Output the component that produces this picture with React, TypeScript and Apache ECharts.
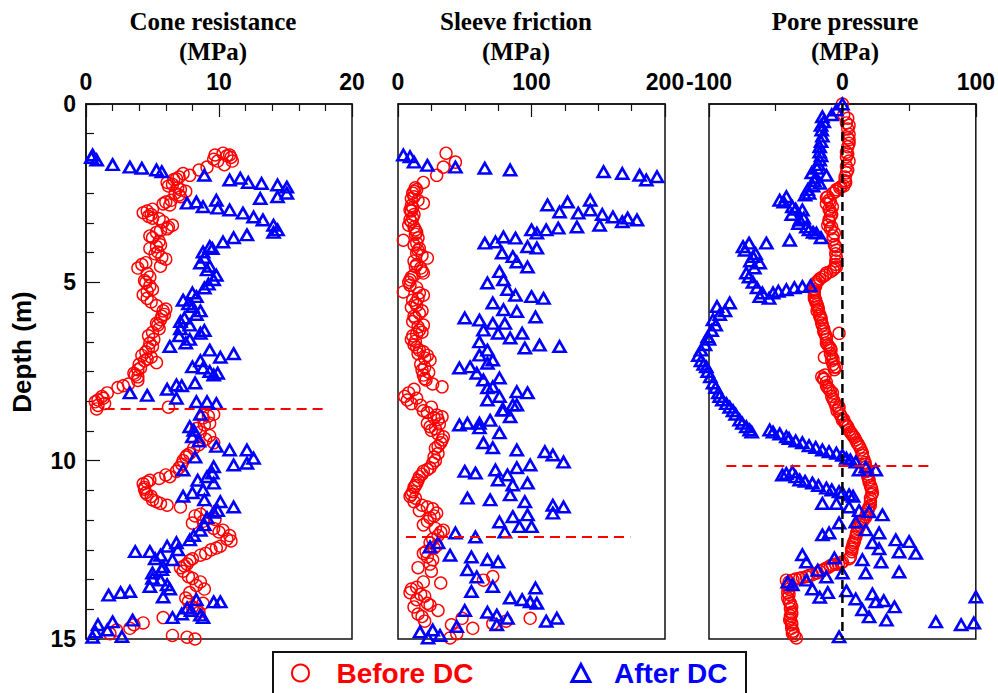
import React, { useEffect, useRef } from "react";
import * as echarts from "echarts";

// ---------- data: [value, depth (m)] ----------
const coneBefore: number[][] = [
  [10.3,1.38],[9.7,1.43],[10.8,1.43],[10.6,1.45],[10.9,1.5],[9.6,1.55],[11.0,1.6],[9.9,1.6],[10.4,1.7],[9.1,1.77],[8.5,1.85],[7.3,1.95],[7.8,2.0],[7.0,2.05],[6.8,2.1],[6.6,2.12],[6.1,2.2],[6.5,2.25],[6.2,2.3],[6.9,2.35],[7.1,2.4],[7.5,2.45],[6.7,2.5],[7.0,2.55],[7.1,2.6],[6.4,2.7],[6.0,2.75],[5.8,2.8],[6.3,2.83],[5.0,2.95],[4.6,3.0],[4.3,3.05],[4.9,3.1],[4.7,3.15],[5.0,3.2],[5.5,3.22],[5.8,3.3],[6.5,3.4],[6.2,3.45],[6.1,3.5],[5.6,3.55],[5.3,3.6],[4.8,3.7],[5.0,3.75],[5.5,3.85],[5.6,3.95],[5.3,4.0],[4.8,4.05],[5.4,4.15],[5.2,4.2],[5.7,4.3],[6.0,4.35],[4.5,4.45],[4.2,4.5],[5.6,4.55],[3.9,4.6],[4.6,4.75],[4.8,4.85],[4.4,4.95],[4.5,5.0],[4.8,5.1],[5.0,5.2],[4.6,5.25],[4.3,5.35],[4.6,5.45],[4.9,5.55],[5.3,5.65],[6.0,5.75],[5.8,5.8],[5.9,5.9],[5.7,5.95],[5.6,6.05],[5.3,6.15],[5.4,6.2],[5.5,6.3],[5.0,6.4],[4.7,6.5],[5.1,6.6],[4.8,6.7],[5.0,6.8],[4.7,6.85],[4.5,6.95],[4.2,7.05],[4.9,7.1],[4.6,7.15],[4.4,7.2],[5.3,7.25],[4.0,7.3],[4.1,7.4],[3.9,7.45],[3.6,7.55],[3.7,7.6],[3.9,7.65],[3.9,7.75],[3.2,7.85],[2.8,7.9],[2.4,7.95],[1.6,8.1],[1.2,8.2],[1.3,8.25],[0.9,8.3],[0.7,8.35],[1.4,8.4],[0.9,8.45],[6.2,8.5],[0.8,8.55],
  [9.6,8.7],[9.2,8.75],[8.8,8.8],[9.3,8.95],[8.9,9.0],[8.3,9.1],[8.6,9.2],[9.3,9.3],[9.0,9.4],[9.6,9.5],[8.5,9.55],[8.1,9.65],[7.8,9.8],[7.6,9.85],[7.5,9.9],[7.3,10.0],[7.2,10.1],[7.0,10.2],[6.8,10.3],[6.0,10.4],[6.3,10.45],[5.5,10.5],[4.8,10.55],[4.6,10.6],[4.3,10.65],[4.4,10.75],[4.4,10.8],[4.5,10.9],[4.6,10.95],[4.9,11.0],[5.0,11.1],[5.3,11.15],[5.6,11.2],[6.1,11.25],[7.1,11.3],[9.1,11.4],[8.6,11.5],[8.2,11.55],[9.7,11.65],[8.8,11.7],[8.0,11.75],[9.6,11.9],[10.3,11.95],[10.0,12.0],[10.8,12.1],[10.6,12.2],[10.9,12.25],[10.1,12.4],[9.8,12.45],[9.4,12.5],[9.0,12.6],[8.6,12.65],[8.0,12.75],[7.8,12.8],[7.6,12.9],[7.4,12.95],[7.1,13.0],[7.3,13.1],[7.7,13.25],[8.0,13.3],[8.6,13.4],[8.3,13.5],[8.9,13.6],[7.8,13.7],[7.5,13.85],[7.7,13.95],[8.8,14.0],[8.0,14.1],[8.3,14.15],[8.5,14.25],[5.8,14.4],[4.3,14.55],[3.6,14.6],[3.3,14.7],[2.3,14.75],[1.8,14.85],[6.5,14.9],[7.6,14.95],[8.2,15.0]
];
const coneAfter: number[][] = [
  [0.5,1.43],[0.8,1.57],[0.4,1.5],[2.0,1.7],[3.3,1.77],[4.2,1.8],[5.3,1.85],[5.7,1.9],[8.9,2.0],[11.6,2.08],[10.8,2.13],[12.2,2.2],[13.2,2.23],[14.4,2.27],[15.1,2.33],[15.1,2.5],[14.4,2.6],[13.1,2.65],[9.8,2.7],[8.3,2.75],[7.6,2.78],[8.8,2.88],[9.9,2.92],[10.8,2.97],[11.8,3.06],[12.6,3.17],[13.3,3.25],[14.1,3.4],[14.4,3.53],[14.1,3.6],[12.1,3.67],[11.1,3.75],[10.3,3.87],[9.3,4.0],[9.5,4.05],[8.8,4.15],[8.9,4.3],[8.6,4.46],[9.3,4.55],[9.1,4.65],[9.8,4.8],[9.6,4.93],[9.2,5.05],[8.9,5.16],[8.0,5.3],[8.3,5.4],[7.3,5.5],[7.7,5.6],[8.0,5.68],[8.6,5.8],[8.3,5.9],[7.4,6.0],[7.1,6.1],[7.8,6.2],[7.1,6.3],[8.9,6.35],[8.6,6.43],[7.0,6.5],[7.8,6.6],[7.5,6.7],[6.3,6.8],[9.3,6.9],[11.1,7.0],[10.1,7.1],[8.6,7.2],[8.0,7.37],[8.8,7.4],[9.3,7.5],[9.9,7.55],[9.6,7.6],[8.2,7.82],[6.8,7.88],[7.2,7.9],[6.1,8.0],[3.3,8.1],[4.6,8.17],[6.8,8.25],[8.3,8.35],[9.1,8.35],[9.8,8.4],
  [8.6,8.7],[7.8,9.05],[8.1,9.15],[8.0,9.33],[8.5,9.45],[9.8,9.6],[10.8,9.7],[12.1,9.7],[8.2,9.9],[12.6,9.93],[12.1,10.07],[11.1,10.12],[9.6,10.17],[7.3,10.26],[9.5,10.35],[9.1,10.45],[8.4,10.55],[9.6,10.63],[8.8,10.82],[8.0,10.9],[7.3,11.0],[8.9,11.1],[10.1,11.15],[11.1,11.3],[9.9,11.4],[9.6,11.45],[9.1,11.6],[8.9,11.8],[8.6,11.95],[8.1,12.1],[7.8,12.22],[6.8,12.3],[6.1,12.4],[6.9,12.5],[4.8,12.55],[3.7,12.55],[5.6,12.65],[6.5,12.78],[5.2,12.75],[5.8,12.97],[5.7,13.05],[5.0,13.15],[5.0,13.3],[5.6,13.35],[6.1,13.48],[4.8,13.53],[6.3,13.6],[3.3,13.67],[2.6,13.7],[1.7,13.77],[5.8,13.82],[8.3,13.9],[9.6,13.96],[10.1,13.96],[7.6,14.13],[7.9,14.2],[7.2,14.3],[8.6,14.33],[8.8,14.4],[6.5,14.4],[3.5,14.47],[2.0,14.52],[0.9,14.6],[1.6,14.75],[0.7,14.8],[2.7,14.93],[0.5,14.95]
];
const sleeveBefore: number[][] = [
  [36,1.38],[43,1.63],[34,1.77],[29,2.0],[19,2.2],[13,2.35],[14,2.4],[12,2.45],[11,2.5],[12,2.6],[10,2.65],[15,2.7],[19,2.78],[10,2.85],[11,2.9],[9,2.97],[10,3.0],[12,3.1],[11,3.2],[9,3.25],[10,3.3],[8,3.4],[12,3.45],[13,3.53],[14,3.6],[13,3.65],[15,3.75],[4,3.82],[14,3.9],[12,3.95],[16,4.05],[15,4.1],[14,4.18],[18,4.25],[22,4.32],[12,4.4],[14,4.5],[13,4.56],[17,4.6],[18,4.68],[19,4.74],[12,4.8],[10,4.85],[9,4.93],[8,5.0],[9,5.08],[14,5.15],[4,5.27],[16,5.3],[19,5.36],[15,5.45],[11,5.5],[13,5.58],[14,5.65],[10,5.7],[18,5.8],[16,5.87],[12,5.95],[13,6.0],[11,6.1],[19,6.2],[15,6.25],[16,6.34],[18,6.4],[14,6.45],[11,6.5],[10,6.6],[13,6.65],[12,6.75],[14,6.82],[16,6.9],[19,6.95],[15,7.0],[22,7.05],[20,7.12],[24,7.18],[17,7.3],[20,7.38],[18,7.46],[23,7.52],[19,7.6],[20,7.7],[21,7.74],[26,7.85],[33,7.93],[12,8.0],[8,8.1],[5,8.2],[14,8.25],[7,8.3],[10,8.4],[17,8.45],[25,8.5],[19,8.6],[22,8.65],[29,8.72],[33,8.77],[27,8.8],[30,8.85],[22,8.95],[31,8.97],[24,9.05],[28,9.1],[25,9.15],[30,9.25],[34,9.33],[33,9.42],[32,9.5],[30,9.6],[28,9.65],[30,9.8],[27,9.9],[28,10.0],[26,10.07],[24,10.2],[22,10.25],[19,10.3],[18,10.38],[16,10.45],[15,10.55],[14,10.63],[13,10.7],[12,10.75],[11,10.87],[10,10.95],[9,11.0],[13,11.05],[12,11.15],[18,11.25],[22,11.3],[26,11.35],[16,11.4],[29,11.47],[27,11.55],[24,11.6],[22,11.7],[19,11.8],[28,11.9],[34,11.95],[32,12.0],[30,12.1],[26,12.2],[24,12.3],[29,12.38],[27,12.45],[21,12.55],[19,12.6],[22,12.7],[26,12.78],[24,12.9],[15,13.0],[25,13.1],[71,13.25],[64,13.35],[19,13.4],[32,13.43],[14,13.55],[10,13.6],[9,13.7],[17,13.75],[20,13.8],[14,13.9],[22,14.0],[24,14.05],[12,14.1],[30,14.2],[15,14.3],[18,14.37],[48,14.42],[99,14.42],[81,14.5],[20,14.5],[71,14.57],[40,14.6],[56,14.7],[44,14.85],[39,14.97]
];
const sleeveAfter: number[][] = [
  [4,1.43],[9,1.48],[12,1.63],[22,1.72],[43,1.77],[65,1.8],[84,1.85],[154,1.9],[168,1.95],[181,2.0],[194,2.04],[186,2.13],
  [144,2.7],[127,2.75],[112,2.83],[144,2.97],[121,3.03],[135,3.06],[153,3.1],[161,3.17],[172,3.2],[179,3.25],[168,3.3],[151,3.4],[134,3.45],[120,3.48],[111,3.53],[100,3.53],[104,3.62],
  [79,3.73],[88,3.76],[73,3.87],[65,3.9],[97,4.0],[104,4.04],[78,4.18],[86,4.28],[89,4.43],[97,4.57],[76,4.7],[79,4.93],[67,5.02],[82,5.2],[88,5.36],[100,5.4],[109,5.45],[71,5.58],[79,5.77],[89,5.82],[103,5.97],[50,6.0],[61,6.06],[71,6.15],[80,6.15],[64,6.34],[75,6.43],[93,6.43],[84,6.56],[61,6.67],[106,6.76],[121,6.8],[95,6.84],[67,6.9],[61,7.04],[71,7.18],[67,7.27],[54,7.37],[46,7.4],[59,7.55],[76,7.68],[64,7.74],[71,7.93],[67,7.96],[89,8.07],[97,8.1],[76,8.2],[67,8.3],[89,8.44],[86,8.44],[78,8.58],[79,8.58],[84,8.77],[69,8.87],[52,8.95],[61,8.95],[46,9.0],[61,9.08],[76,9.22],[64,9.5],[71,9.64],[89,9.7],[110,9.75],[116,9.84],[124,10.04],[99,10.12],[89,10.2],[73,10.26],[50,10.3],[58,10.35],[82,10.4],[75,10.54],[97,10.63],[86,10.68],[84,10.96],[52,11.05],[69,11.1],[95,11.15],[116,11.25],[124,11.3],[116,11.47],[97,11.52],[86,11.57],[76,11.72],[91,11.85],[100,11.85],[80,12.0],[43,12.03],[58,12.14],[30,12.3],[24,12.42],[39,12.65],[55,12.7],[67,12.78],[75,12.84],[52,13.06],[59,13.26],[71,13.53],[103,13.57],[55,13.67],[84,13.85],[93,13.9],[99,13.96],[104,14.0],[50,14.2],[67,14.25],[74,14.33],[82,14.42],[119,14.42],[111,14.5],[74,14.6],[44,14.65],[26,14.75],[16.5,14.8],[31.5,14.9],[22.5,14.97]
];
const poreBefore: number[][] = [
  [0,0.0],[1,0.3],[4,0.4],[3,0.53],[5,0.6],[4,0.7],[5,0.85],[4,0.95],[5,1.0],[5,1.1],[4,1.2],[3,1.35],[4,1.4],[3,1.48],[5,1.6],[3,1.75],[4,1.85],[3,1.93],[2,2.05],[2,2.15],[2.5,2.2],[1,2.3],[-1,2.32],[-2,2.35],[-4.5,2.4],[-5,2.45],[-7,2.5],[-11,2.6],[-12,2.63],[-10,2.7],[-9,2.75],[-12,2.8],[-7.5,2.88],[-10,2.95],[-9,3.0],[-8,3.1],[-9,3.15],[-10,3.25],[-10,3.3],[-11,3.4],[-8,3.45],[-9,3.5],[-6,3.62],[-7,3.7],[-7,3.8],[-6,3.95],[-5,4.0],[-4.5,4.1],[-5,4.2],[-4.5,4.3],[-5,4.4],[-5,4.5],[-4.5,4.57],[-6,4.6],[-7,4.65],[-9,4.7],[-12,4.74],[-13,4.8],[-15,4.85],[-17,4.9],[-18,4.95],[-19.5,5.0],[-20,5.05],[-20,5.1],[-21,5.2],[-21,5.25],[-21,5.3],[-21,5.38],[-21,5.45],[-20,5.5],[-20,5.55],[-19,5.62],[-18.5,5.68],[-18,5.75],[-19,5.8],[-17,5.9],[-17,5.95],[-16,6.0],[-16,6.05],[-15.5,6.14],[-15,6.2],[-14,6.3],[-14,6.38],[-2.5,6.43],[-13,6.45],[-12,6.53],[-12,6.6],[-12,6.7],[-11,6.75],[-10,6.8],[-9,6.85],[-8.5,6.9],[-9,7.0],[-8,7.08],[-13.5,7.1],[-7,7.15],[-8,7.2],[-7,7.3],[-4.5,7.37],[-6,7.38],[-6,7.45],[-13,7.6],[-15.5,7.65],[-14,7.7],[-14,7.72],[-12,7.8],[-12,7.9],[-11,7.95],[-10,8.0],[-9,8.05],[-7.5,8.1],[-8,8.2],[-7,8.28],[-6,8.35],[-5,8.45],[-2.5,8.5],[-3,8.55],[-4,8.6],[-2,8.68],[-1,8.75],[1,8.85],[0,8.86],[2,8.95],[3,9.0],[4,9.05],[5,9.14],[6,9.2],[7,9.25],[8,9.3],[9,9.35],[10,9.42],[11,9.5],[12,9.55],[13,9.62],[14,9.7],[15,9.79],[15,9.85],[16,9.95],[17,10.05],[17,10.1],[17.5,10.18],[18,10.25],[18,10.3],[19,10.38],[19,10.45],[20,10.54],[20,10.6],[21,10.7],[21.5,10.75],[22,10.8],[22.5,10.9],[22,10.95],[21,11.05],[21,11.15],[21,11.25],[20,11.3],[19.5,11.35],[19,11.4],[18,11.5],[17.5,11.58],[16,11.65],[15,11.7],[14,11.75],[13,11.8],[12.5,11.86],[11.5,11.9],[11,12.0],[10.5,12.05],[10,12.14],[9,12.25],[8.5,12.3],[8,12.35],[7.5,12.42],[7,12.48],[7,12.55],[6,12.7],[5,12.75],[0,12.84],[-1,12.87],[-3,12.9],[-5,12.9],[-7.5,12.92],[-9,12.95],[-11,13.0],[-13,13.03],[-15,13.07],[-17,13.1],[-19,13.15],[-22.5,13.2],[-25,13.22],[-27,13.25],[-30,13.28],[-32,13.3],[-35,13.32],[-37,13.35],[-42,13.35],[-40,13.4],[-40,13.5],[-41,13.55],[-40,13.6],[-41,13.7],[-40,13.75],[-41,13.85],[-40,13.95],[-39,14.0],[-38,14.1],[-39,14.15],[-38,14.25],[-38,14.3],[-39,14.35],[-39,14.42],[-39.5,14.47],[-38,14.55],[-38,14.6],[-38,14.7],[-37,14.78],[-37.5,14.84],[-36,14.9],[-34.5,14.97]
];
const poreAfter: number[][] = [
  [0,0.0],[-4.5,0.17],[-8,0.3],[-15,0.36],[-14,0.5],[-16,0.6],[-15.5,0.73],[-15,0.9],[-16,1.05],[-17,1.2],[-17,1.35],[-16,1.45],[-17,1.57],[-18,1.7],[-19,1.8],[-23,1.93],[-12,2.0],[-20,2.05],[-21,2.15],[-17,2.22],[-22,2.3],[-26,2.4],[-25,2.5],[-28,2.55],[-42,2.6],[-47,2.7],[-44,2.75],[-37.5,2.88],[-35,2.95],[-30,2.97],[-38,3.1],[-29,3.2],[-32,3.25],[-33,3.35],[-27,3.45],[-25,3.53],[-22,3.6],[-19.5,3.62],[-16,3.75],[-39.5,3.82],[-57,3.9],[-70,3.9],[-74.5,4.0],[-73,4.1],[-65,4.2],[-67,4.28],[-69,4.4],[-62,4.46],[-66,4.6],[-72,4.74],[-70,4.85],[-67,5.0],[-30,5.12],[-64,5.15],[-24,5.1],[-36,5.15],[-42,5.21],[-48,5.25],[-52,5.3],[-60,5.3],[-62,5.4],[-55,5.45],[-84.5,5.58],[-94,5.68],[-88,5.8],[-92,5.9],[-97,6.05],[-95,6.2],[-98,6.35],[-101,6.53],[-100,6.6],[-103,6.75],[-106,6.9],[-108,7.05],[-106,7.2],[-104,7.3],[-102,7.37],[-101,7.5],[-99,7.65],[-97,7.82],[-95,7.95],[-93,8.1],[-92,8.2],[-90,8.3],[-87,8.4],[-84.5,8.5],[-82,8.6],[-80,8.7],[-77,8.86],[-75,8.95],[-72,9.05],[-69.5,9.14],[-68,9.2],[-54.5,9.14],[-52,9.2],[-47,9.25],[-42,9.33],[-40,9.38],[-35,9.45],[-30,9.5],[-25,9.58],[-20,9.63],[-15,9.7],[-10,9.75],[-4.5,9.79],[0,9.85],[3,9.93],[6,9.98],[10,10.04],[17.5,10.18],[25,10.26],[12.5,10.26],[-37.5,10.32],[-42,10.36],[-45,10.4],[-35,10.45],[-32,10.54],[-28,10.58],[-22.5,10.63],[-18,10.7],[-12,10.77],[-8,10.82],[-2.5,10.87],[0,10.9],[5,10.96],[8,11.0],[-15,11.2],[-4.5,11.2],[5,11.3],[12.5,11.4],[20,11.43],[30,11.52],[10,11.72],[-2.5,11.75],[17.5,11.94],[-10,12.03],[27.5,12.03],[-15,12.08],[40,12.22],[50,12.27],[22.5,12.3],[27.5,12.47],[42.5,12.56],[55,12.6],[-30,12.64],[-6,12.73],[15,12.78],[-27,12.84],[29,12.84],[-18.5,13.07],[42.5,13.12],[0,13.15],[17.5,13.15],[-12,13.26],[-27,13.35],[-41,13.4],[-37.5,13.48],[-22.5,13.6],[3,13.65],[-11,13.7],[22.5,13.74],[100,13.82],[-17,13.83],[10,13.88],[31,13.93],[25,13.96],[39,14.1],[15,14.18],[20,14.38],[33,14.47],[70,14.52],[98.5,14.55],[89,14.6],[-2.5,14.94]
];

// reference lines
const coneDivider: number[][] = [[1.4, 8.55], [18, 8.55]];
const sleeveDivider: number[][] = [[6, 12.14], [174, 12.14]];
const poreDivider: number[][] = [[-87, 10.15], [68, 10.15]];
const poreZero: number[][] = [[0, 0], [0, 15]];

const panelTitles = ["Cone resistance", "Sleeve friction", "Pore pressure"];
const panelUnits = ["(MPa)", "(MPa)", "(MPa)"];
const xRanges = [[0, 20, 10, 5], [0, 200, 100, 4], [-100, 100, 100, 2]];
const depthRange = [0, 15, 5];

const RED = "#ff0000";
const BLUE = "#0000ff";

export default function App() {
  const ref = useRef<HTMLDivElement>(null);
  useEffect(() => {
    if (!ref.current) return;
    const chart = echarts.init(ref.current, undefined, { renderer: "svg" });
    const grids = [
      { left: 86, top: 104, width: 266, height: 535 },
      { left: 398, top: 104, width: 267, height: 535 },
      { left: 709, top: 104, width: 268, height: 535 },
    ].map((g) => ({ ...g, show: true, borderColor: "#111", borderWidth: 1.5, backgroundColor: "transparent" }));

    const xAxes = xRanges.map((r, i) => ({
      gridIndex: i,
      type: "value",
      position: "top",
      min: r[0],
      max: r[1],
      interval: r[2],
      axisLine: { show: true, lineStyle: { color: "#111", width: 1.5 } },
      axisTick: { show: true, inside: true, length: 13, lineStyle: { color: "#111", width: 1.2 } },
      minorTick: { show: true, splitNumber: r[3], length: 7, lineStyle: { color: "#111", width: 1.2 } },
      axisLabel: { fontFamily: "Liberation Sans, Arial", fontWeight: "bold", fontSize: 23, color: "#000", margin: 11 },
      splitLine: { show: false },
      minorSplitLine: { show: false },
    }));

    const yAxes = [0, 1, 2].map((i) => ({
      gridIndex: i,
      type: "value",
      inverse: true,
      min: depthRange[0],
      max: depthRange[1],
      interval: depthRange[2],
      axisLine: { show: i === 0, lineStyle: { color: "#111", width: 1.5 } },
      axisTick: { show: i === 0, inside: true, length: 14, lineStyle: { color: "#111", width: 1.2 } },
      minorTick: { show: i === 0, splitNumber: 6, length: 8, lineStyle: { color: "#111", width: 1.2 } },
      axisLabel: { show: i === 0, fontFamily: "Liberation Sans, Arial", fontWeight: "bold", fontSize: 23, color: "#000", margin: 10 },
      splitLine: { show: false },
      minorSplitLine: { show: false },
    }));

    const beforeData = [coneBefore, sleeveBefore, poreBefore];
    const afterData = [coneAfter, sleeveAfter, poreAfter];
    const series: any[] = [];
    [0, 1, 2].forEach((i) => {
      series.push({
        type: "scatter",
        name: "Before DC",
        xAxisIndex: i,
        yAxisIndex: i,
        data: beforeData[i],
        symbol: "circle",
        symbolSize: 12,
        clip: false,
        z: 2,
        itemStyle: { color: "transparent", borderColor: RED, borderWidth: 1.4, opacity: 1 },
      });
    });
    [0, 1, 2].forEach((i) => {
      series.push({
        type: "scatter",
        name: "After DC",
        xAxisIndex: i,
        yAxisIndex: i,
        data: afterData[i],
        symbol: "triangle",
        symbolSize: [12, 10.5],
        clip: false,
        z: 3,
        itemStyle: { color: "transparent", borderColor: BLUE, borderWidth: 2.6, opacity: 1 },
      });
    });
    const dividers = [coneDivider, sleeveDivider, poreDivider];
    dividers.forEach((d, i) => {
      series.push({
        type: "line",
        name: "divider" + i,
        xAxisIndex: i,
        yAxisIndex: i,
        data: d,
        symbol: "none",
        silent: true,
        z: 5,
        lineStyle: { color: RED, width: 2, type: [10, 6] },
      });
    });
    series.push({
      type: "line",
      name: "zero",
      xAxisIndex: 2,
      yAxisIndex: 2,
      data: poreZero,
      symbol: "none",
      silent: true,
      z: 6,
      lineStyle: { color: "#000", width: 2.5, type: [9, 5] },
    });

    const titleX = [213, 516, 845];
    const graphics: any[] = [];
    panelTitles.forEach((t, i) => {
      graphics.push({
        type: "text",
        x: titleX[i],
        y: 21,
        silent: true,
        style: { text: t, fontFamily: "Liberation Serif, Times New Roman", fontWeight: "bold", fontSize: 25, fill: "#000", align: "center", verticalAlign: "middle" },
      });
      graphics.push({
        type: "text",
        x: titleX[i],
        y: 51,
        silent: true,
        style: { text: panelUnits[i], fontFamily: "Liberation Serif, Times New Roman", fontWeight: "bold", fontSize: 25, fill: "#000", align: "center", verticalAlign: "middle" },
      });
    });
    graphics.push({
      type: "text",
      x: 22,
      y: 352,
      rotation: Math.PI / 2,
      silent: true,
      style: { text: "Depth (m)", fontFamily: "Liberation Sans, Arial", fontWeight: "bold", fontSize: 26, fill: "#000", align: "center", verticalAlign: "middle" },
    });
    graphics.push({
      type: "rect",
      silent: true,
      shape: { x: 273, y: 652, width: 473, height: 60 },
      style: { fill: "none", stroke: "#111", lineWidth: 2 },
    });

    chart.setOption({
      animation: false,
      backgroundColor: "#ffffff",
      grid: grids,
      xAxis: xAxes,
      yAxis: yAxes,
      series,
      legend: {
        left: 291,
        top: 659,
        padding: 0,
        itemWidth: 18,
        itemHeight: 17,
        itemGap: 97,
        selectedMode: false,
        data: [
          { name: "Before DC", icon: "circle", itemStyle: { color: "transparent", borderColor: RED, borderWidth: 2 }, textStyle: { color: RED, padding: [0, 0, 0, 22] } },
          { name: "After DC", icon: "triangle", itemStyle: { color: "transparent", borderColor: BLUE, borderWidth: 3 }, textStyle: { color: BLUE, padding: [0, 0, 0, 19] } },
        ],
        textStyle: { fontFamily: "Liberation Sans, Arial", fontWeight: "bold", fontSize: 28 },
      },
      graphic: graphics,
    });
    return () => chart.dispose();
  }, []);
  return <div ref={ref} style={{ position: "absolute", left: 0, top: 0, width: 998, height: 693 }} />;
}
